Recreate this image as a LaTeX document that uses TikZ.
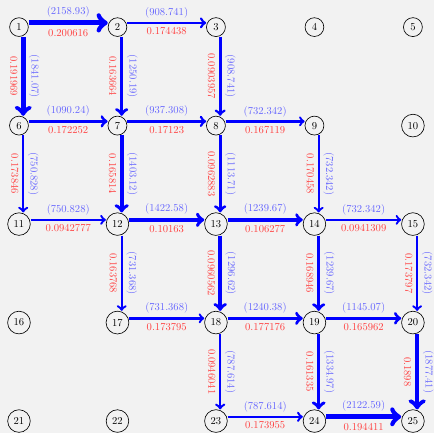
\documentclass[tikz,border=0pt]{standalone}
\usetikzlibrary{arrows}
\tikzset{
  city/.style={circle, draw, line width=0.6pt},
  flow/.style={->, draw=blue},
  wt/.style={above, sloped, text=blue!60},
  cst/.style={below, sloped, text=red!75}
}
\begin{document}
\begin{tikzpicture}[x=3.27cm, y=-3.27cm]
\useasboundingbox (-0.63cm,0.9cm) rectangle (13.78cm,-13.48cm);
\fill[black!5] (-0.63cm,0.9cm) rectangle (13.78cm,-13.48cm);

% the 5x5 grid of nodes
\node[city] (n1) at (0,0) {1};
\node[city] (n2) at (1,0) {2};
\node[city] (n3) at (2,0) {3};
\node[city] (n4) at (3,0) {4};
\node[city] (n5) at (4,0) {5};
\node[city] (n6) at (0,1) {6};
\node[city] (n7) at (1,1) {7};
\node[city] (n8) at (2,1) {8};
\node[city] (n9) at (3,1) {9};
\node[city] (n10) at (4,1) {10};
\node[city] (n11) at (0,2) {11};
\node[city] (n12) at (1,2) {12};
\node[city] (n13) at (2,2) {13};
\node[city] (n14) at (3,2) {14};
\node[city] (n15) at (4,2) {15};
\node[city] (n16) at (0,3) {16};
\node[city] (n17) at (1,3) {17};
\node[city] (n18) at (2,3) {18};
\node[city] (n19) at (3,3) {19};
\node[city] (n20) at (4,3) {20};
\node[city] (n21) at (0,4) {21};
\node[city] (n22) at (1,4) {22};
\node[city] (n23) at (2,4) {23};
\node[city] (n24) at (3,4) {24};
\node[city] (n25) at (4,4) {25};

% row 1
\draw[flow, line width=4.95pt] ([yshift=4pt]n1.east) -- node[wt]{(2158.93)} node[cst]{0.200616} ([yshift=4pt]n2.west);
\draw[flow, line width=2.55pt] ([yshift=4pt]n2.east) -- node[wt]{(908.741)} node[cst]{0.174438} ([yshift=4pt]n3.west);
\draw[flow, line width=4.34pt] ([xshift=4pt]n1.south) -- node[wt]{(1841.07)} node[cst]{0.191969} ([xshift=4pt]n6.north);
\draw[flow, line width=3.20pt] ([xshift=4pt]n2.south) -- node[wt]{(1250.19)} node[cst]{0.163664} ([xshift=4pt]n7.north);
\draw[flow, line width=2.55pt] ([xshift=4pt]n3.south) -- node[wt]{(908.741)} node[cst]{0.0903957} ([xshift=4pt]n8.north);

% row 2
\draw[flow, line width=2.90pt] ([yshift=4pt]n6.east) -- node[wt]{(1090.24)} node[cst]{0.172252} ([yshift=4pt]n7.west);
\draw[flow, line width=2.60pt] ([yshift=4pt]n7.east) -- node[wt]{(937.308)} node[cst]{0.17123} ([yshift=4pt]n8.west);
\draw[flow, line width=2.21pt] ([yshift=4pt]n8.east) -- node[wt]{(732.342)} node[cst]{0.167119} ([yshift=4pt]n9.west);
\draw[flow, line width=2.24pt] ([xshift=4pt]n6.south) -- node[wt]{(750.828)} node[cst]{0.173846} ([xshift=4pt]n11.north);
\draw[flow, line width=3.50pt] ([xshift=4pt]n7.south) -- node[wt]{(1403.12)} node[cst]{0.165814} ([xshift=4pt]n12.north);
\draw[flow, line width=2.94pt] ([xshift=4pt]n8.south) -- node[wt]{(1113.71)} node[cst]{0.0962883} ([xshift=4pt]n13.north);
\draw[flow, line width=2.21pt] ([xshift=4pt]n9.south) -- node[wt]{(732.342)} node[cst]{0.170458} ([xshift=4pt]n14.north);

% row 3
\draw[flow, line width=2.24pt] ([yshift=4pt]n11.east) -- node[wt]{(750.828)} node[cst]{0.0942777} ([yshift=4pt]n12.west);
\draw[flow, line width=3.54pt] ([yshift=4pt]n12.east) -- node[wt]{(1422.58)} node[cst]{0.10163} ([yshift=4pt]n13.west);
\draw[flow, line width=3.18pt] ([yshift=4pt]n13.east) -- node[wt]{(1239.67)} node[cst]{0.106277} ([yshift=4pt]n14.west);
\draw[flow, line width=2.21pt] ([yshift=4pt]n14.east) -- node[wt]{(732.342)} node[cst]{0.0941309} ([yshift=4pt]n15.west);
\draw[flow, line width=2.21pt] ([xshift=4pt]n12.south) -- node[wt]{(731.368)} node[cst]{0.163768} ([xshift=4pt]n17.north);
\draw[flow, line width=3.29pt] ([xshift=4pt]n13.south) -- node[wt]{(1296.62)} node[cst]{0.0960562} ([xshift=4pt]n18.north);
\draw[flow, line width=3.18pt] ([xshift=4pt]n14.south) -- node[wt]{(1239.67)} node[cst]{0.168946} ([xshift=4pt]n19.north);
\draw[flow, line width=2.21pt] ([xshift=4pt]n15.south) -- node[wt]{(732.342)} node[cst]{0.173797} ([xshift=4pt]n20.north);

% row 4
\draw[flow, line width=2.21pt] ([yshift=4pt]n17.east) -- node[wt]{(731.368)} node[cst]{0.173795} ([yshift=4pt]n18.west);
\draw[flow, line width=3.19pt] ([yshift=4pt]n18.east) -- node[wt]{(1240.38)} node[cst]{0.177176} ([yshift=4pt]n19.west);
\draw[flow, line width=3.00pt] ([yshift=4pt]n19.east) -- node[wt]{(1145.07)} node[cst]{0.165962} ([yshift=4pt]n20.west);
\draw[flow, line width=2.31pt] ([xshift=4pt]n18.south) -- node[wt]{(787.614)} node[cst]{0.0946041} ([xshift=4pt]n23.north);
\draw[flow, line width=3.37pt] ([xshift=4pt]n19.south) -- node[wt]{(1334.97)} node[cst]{0.161335} ([xshift=4pt]n24.north);
\draw[flow, line width=4.41pt] ([xshift=4pt]n20.south) -- node[wt]{(1877.41)} node[cst]{0.1898} ([xshift=4pt]n25.north);

% row 5
\draw[flow, line width=2.31pt] ([yshift=4pt]n23.east) -- node[wt]{(787.614)} node[cst]{0.173955} ([yshift=4pt]n24.west);
\draw[flow, line width=4.88pt] ([yshift=4pt]n24.east) -- node[wt]{(2122.59)} node[cst]{0.194411} ([yshift=4pt]n25.west);
\end{tikzpicture}
\end{document}
